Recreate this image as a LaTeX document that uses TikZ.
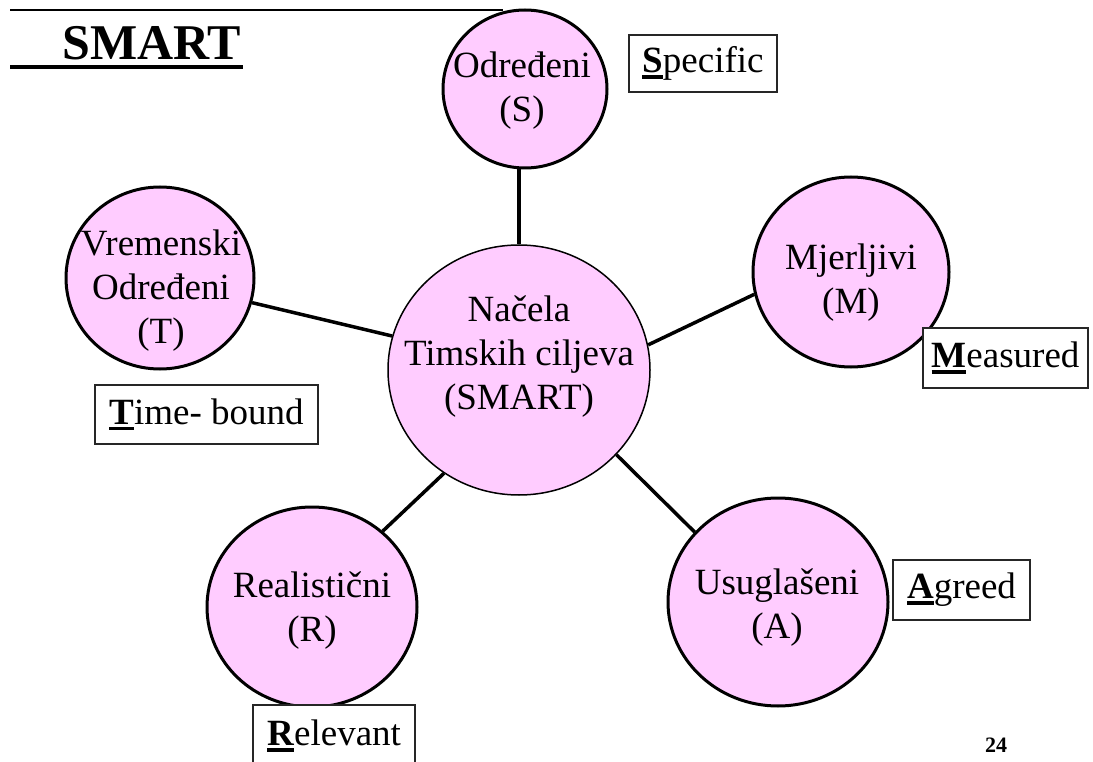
\documentclass[tikz,border=0pt]{standalone}
\usepackage{fontspec}
\setmainfont{Liberation Serif}
\usetikzlibrary{shapes.geometric}
\definecolor{pinkfill}{RGB}{255,204,255}
\newcommand\ulb[1]{\setbox0\hbox{\textbf{#1}}\rlap{\rule[-0.16em]{\wd0}{0.09em}}\box0}
\begin{document}
\begin{tikzpicture}[x=1pt,y=-1pt,
  bub/.style={ellipse,draw=black,line width=3pt,fill=pinkfill,inner sep=0pt},
  hub/.style={ellipse,draw=black,line width=1.5pt,fill=pinkfill,inner sep=0pt},
  txt/.style={align=center,font=\fontsize{37}{44}\selectfont,inner sep=0pt},
  tag/.style={draw=black!85,line width=1.8pt,fill=white,font=\fontsize{37}{45}\selectfont,inner sep=0pt},
  link/.style={line width=3.5pt}]
\useasboundingbox (0,0) rectangle (1093,762);
\fill[white] (0,0) rectangle (1093,762);
% title
\coordinate (r1) at (10,10);
\coordinate (r2) at (503,10);
\draw[line width=2pt] (r1) -- (r2);
\node[anchor=base west,inner sep=0pt,font=\fontsize{50}{60}\selectfont\bfseries] (title) at (62,60) {SMART};
\coordinate (u1) at (10,67);
\coordinate (u2) at (243,67);
\draw[line width=4pt] (u1) -- (u2);
% circles
\node[hub,minimum width=262pt,minimum height=250pt] (c) at (519,370) {};
\node[bub,minimum width=164pt,minimum height=158pt] (s) at (525,89) {};
\node[bub,minimum width=188pt,minimum height=182pt] (t) at (160,278) {};
\node[bub,minimum width=196pt,minimum height=190pt] (m) at (851,272) {};
\node[bub,minimum width=210pt,minimum height=200pt] (r) at (312,607) {};
\node[bub,minimum width=220pt,minimum height=208pt] (a) at (778,602) {};
% connectors
\draw[link] (c.north) -- (c.north |- s.south);
\draw[link] (t.-15) -- (c.165);
\draw[link] (m.193) -- (c.11);
\draw[link] (r.47) -- (c.234);
\draw[link] (a.140) -- (c.-41);
% texts
\node[txt] (ct) at (519,357) {Načela\\Timskih ciljeva\\(SMART)};
\node[txt] (st) at (522,91) {Određeni\\(S)};
\node[txt] (tt) at (161,291) {Vremenski\\Određeni\\(T)};
\node[txt] (mt) at (851,283) {Mjerljivi\\(M)};
\node[txt] (rt) at (312,611) {Realistični\\(R)};
\node[txt] (at) at (777,608) {Usuglašeni\\(A)};
% tags
\node[tag,minimum width=148pt,minimum height=57pt] (sb) at (703,63.5) {\ulb{S}pecific};
\node[tag,minimum width=165pt,minimum height=60pt] (mb) at (1005.5,358) {\ulb{M}easured};
\node[tag,minimum width=223pt,minimum height=59pt] (tb) at (206.5,414.5) {\ulb{T}ime- bound};
\node[tag,minimum width=162pt,minimum height=62pt] (rb) at (334,736) {\ulb{R}elevant};
\node[tag,minimum width=137pt,minimum height=60pt] (ab) at (961.5,590) {\ulb{A}greed};
\node[inner sep=0pt,font=\fontsize{22}{26}\selectfont\bfseries] (pg) at (996,745) {24};
\end{tikzpicture}
\end{document}
